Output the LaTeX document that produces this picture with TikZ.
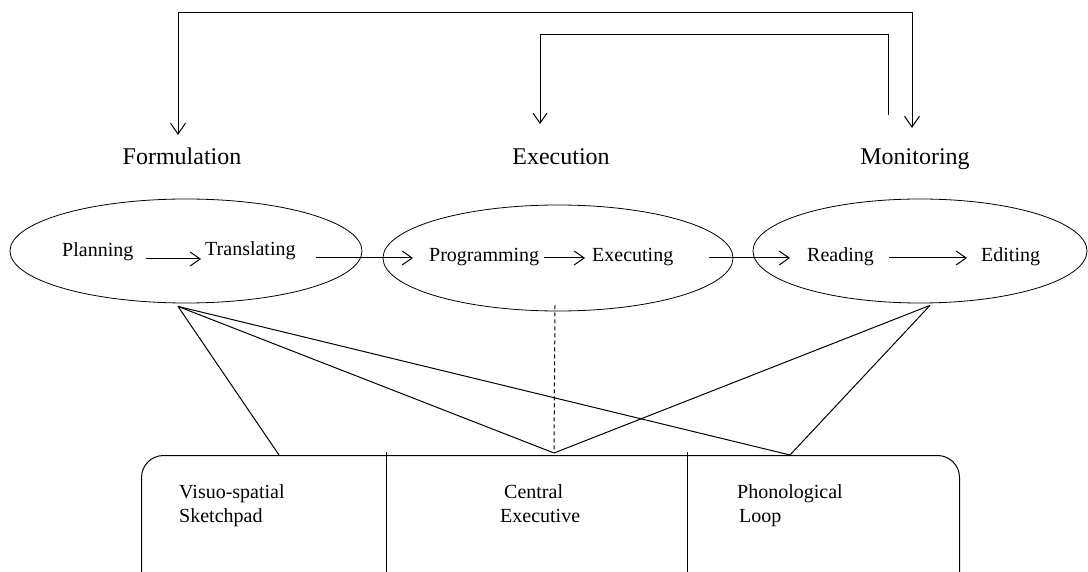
\documentclass[tikz,border=0pt]{standalone}
\usepackage{fontspec}
\setmainfont{Liberation Serif}
\usetikzlibrary{arrows.meta,shapes.geometric}

\tikzset{
  link/.style={line width=1pt, draw=black},
  arr/.style={link, -{Straight Barb[length=10pt,width=14pt,line width=1pt]}},
  biarr/.style={link, {Straight Barb[length=11pt,width=15pt,line width=1pt]}-{Straight Barb[length=11pt,width=15pt,line width=1pt]}},
  stage/.style={font=\fontsize{24}{28}\selectfont, inner sep=0pt, anchor=base},
  phase/.style={draw, line width=0.8pt, ellipse, inner sep=0pt},
  process/.style={font=\fontsize{20}{24}\selectfont, inner sep=0pt, anchor=base west},
  component/.style={font=\fontsize{20}{24}\selectfont, inner sep=0pt, anchor=north west, align=left},
  wmbox/.style={draw, line width=1pt, rounded corners=22pt, anchor=north west, inner sep=0pt}
}

\begin{document}
\begin{tikzpicture}[x=1pt,y=-1pt]
\useasboundingbox (0,0) rectangle (1088,572);
\clip (0,0) rectangle (1088,572);

% stage labels
\node[stage] (formulation) at (182,165) {Formulation};
\node[stage] (execution)   at (561,165) {Execution};
\node[stage] (monitoring)  at (915,165) {Monitoring};

% feedback loops above the stages
\coordinate (fin)  at (178,135);
\coordinate (min)  at (912,128);
\coordinate (ein)  at (540,124);
\coordinate (mout) at (888,115);
\draw[biarr] (fin) -- ++(0,-122) -| (min);
\draw[arr] (mout) -- ++(0,-80) -| (ein);

% the three phases
\node[phase, minimum width=352, minimum height=104] (form) at (186,251) {};
\node[phase, minimum width=350, minimum height=106] (exec) at (558,258) {};
\node[phase, minimum width=334, minimum height=104] (moni) at (920,251) {};

% processes inside the phases
\node[process] (planning)    at (62,257)  {Planning};
\node[process] (translating) at (205,256) {Translating};
\node[process] (programming) at (429,262) {Programming};
\node[process] (executing)   at (592,262) {Executing};
\node[process] (reading)     at (807,262) {Reading};
\node[process] (editing)     at (981,262) {Editing};

\draw[arr] ([shift={(12,2)}]planning.base east) -- ([shift={(-4,3)}]translating.base west);
\draw[arr] ([shift={(20,2)}]translating.base east) -- ([shift={(-16,-4)}]programming.base west);
\draw[arr] ([shift={(5,-4)}]programming.base east) -- ([shift={(-7,-4)}]executing.base west);
\draw[arr] ([shift={(36,-4)}]executing.base east) -- ([shift={(-17,-4)}]reading.base west);
\draw[arr] ([shift={(15,-4)}]reading.base east) -- ([shift={(-14,-4)}]editing.base west);

% working memory model
\node[wmbox, minimum width=818, minimum height=160] (wm) at (141,455) {};
\draw[link] (386,452) -- (386,580);
\draw[link] (687,452) -- (687,580);

\node[component] (vss) at (179,484) {Visuo-spatial\\Sketchpad};
\node[component] (cex) at (500,484) {\hspace*{4pt}Central\\Executive};
\node[component] (phl) at (737,484) {Phonological\\\hspace*{2pt}Loop};

% attachment points on the model
\coordinate (vsstop) at (279,455);
\coordinate (cetop)  at (554,453);
\coordinate (pltop)  at (790,455);
\coordinate (fhub) at ([shift={(-8,3)}]form.south);
\coordinate (mhub) at ([shift={(10,2)}]moni.south);

\draw[link] (fhub) -- (vsstop);
\draw[link] (fhub) -- (cetop);
\draw[link] (fhub) -- (pltop);
\draw[link] (mhub) -- (cetop);
\draw[link] (mhub) -- (pltop);
\draw[link, dash pattern=on 4pt off 3pt] ([shift={(-3,-6)}]exec.south) -- (cetop);
\end{tikzpicture}
\end{document}
